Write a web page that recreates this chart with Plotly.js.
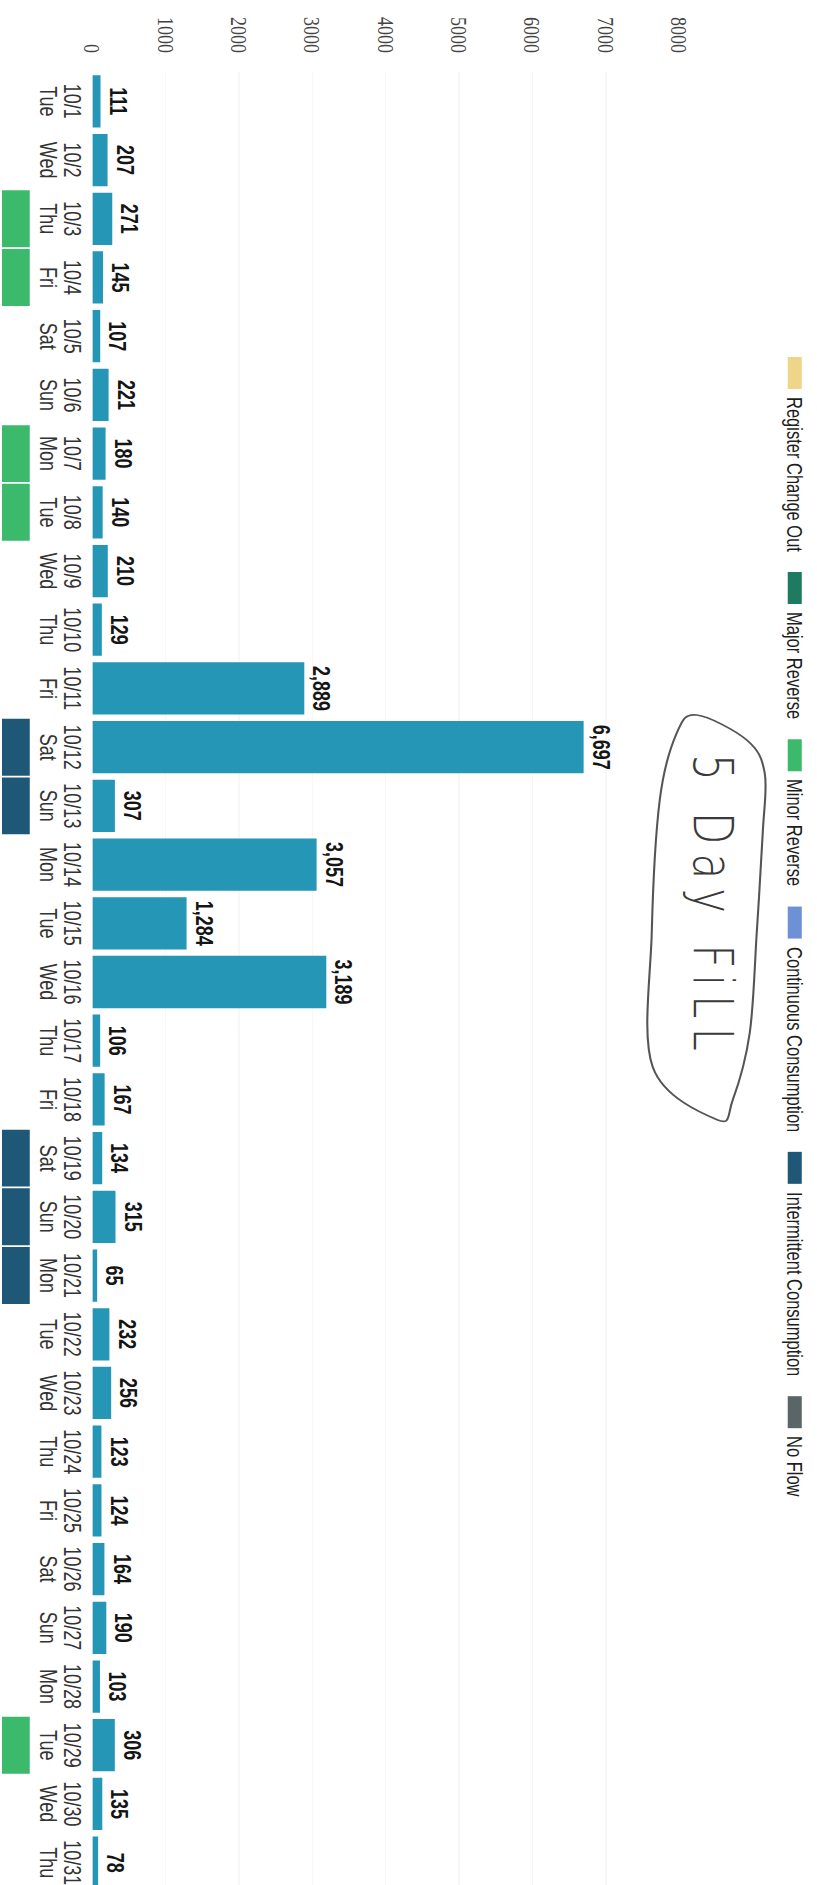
<!DOCTYPE html>
<html>
<head>
<meta charset="utf-8">
<script src="https://cdn.plot.ly/plotly-3.0.1.min.js"></script>
<style>
html, body { margin:0; padding:0; background:#ffffff; width:817px; height:1885px; overflow:hidden; }
#chart { position:absolute; left:817px; top:0; width:1900px; height:629px;
         transform-origin:0 0; transform:rotate(90deg) scaleY(1.3); }
</style>
</head>
<body>
<div id="chart"></div>
<script>
// ---------------- data ----------------
const dates = ['10/1','10/2','10/3','10/4','10/5','10/6','10/7','10/8','10/9','10/10',
  '10/11','10/12','10/13','10/14','10/15','10/16','10/17','10/18','10/19','10/20',
  '10/21','10/22','10/23','10/24','10/25','10/26','10/27','10/28','10/29','10/30','10/31'];
const weekdays = ['Tue','Wed','Thu','Fri','Sat','Sun','Mon','Tue','Wed','Thu',
  'Fri','Sat','Sun','Mon','Tue','Wed','Thu','Fri','Sat','Sun',
  'Mon','Tue','Wed','Thu','Fri','Sat','Sun','Mon','Tue','Wed','Thu'];
const dailyUsage = [111,207,271,145,107,221,180,140,210,129,
  2889,6697,307,3057,1284,3189,106,167,134,315,
  65,232,256,123,124,164,190,103,306,135,78];
const minorReverseDays = ['10/3','10/4','10/7','10/8','10/29'];
const intermittentDays = ['10/12','10/13','10/19','10/20','10/21'];
const legendNames = ['Register Change Out','Major Reverse','Minor Reverse',
  'Continuous Consumption','Intermittent Consumption','No Flow'];
const legendColors = ['#efd58a','#1e7a60','#3cba6c','#6d90d6','#1f5877','#5a6567'];
const valueTicks = [0,1000,2000,3000,4000,5000,6000,7000,8000];
const noteText = '5 Day FiLL';

// ---------------- geometry (unrotated, unstretched page) ----------------
const W = 1900, H = 629, ML = 72, MR = 8, MT = 105.8, MB = 2.1;
const PW = W - ML - MR, PH = H - MT - MB;
const STRETCH = 1.3;
const px2x = p => (p - ML) / PW;
const py2y = p => (H - MB - p) / PH;
const rotX = Y => px2x(Y);
const rotY = X => py2y((817 - X) / STRETCH);

const barColor = '#2596b5';

const traces = [
  {
    type:'bar', x:dates, y:dailyUsage, xaxis:'x', yaxis:'y',
    marker:{color:barColor}, width:0.89,
    texttemplate:'%{y:,}', textposition:'outside', textangle:0,
    constraintext:'none', cliponaxis:false,
    textfont:{family:'Liberation Sans, Arial, sans-serif', size:18, color:'#151515', weight:'bold'},
    hoverinfo:'skip', showlegend:false
  },
  {
    type:'bar', name:legendNames[2], x:minorReverseDays, y:minorReverseDays.map(() => 1),
    xaxis:'x2', yaxis:'y2', width:0.97, marker:{color:legendColors[2]},
    hoverinfo:'skip', showlegend:false
  },
  {
    type:'bar', name:legendNames[4], x:intermittentDays, y:intermittentDays.map(() => 1),
    xaxis:'x2', yaxis:'y2', width:0.97, marker:{color:legendColors[4]},
    hoverinfo:'skip', showlegend:false
  }
];

// ---------------- manual legend (wide swatches) ----------------
const shapes = [];
const annotations = [];
const ctx = document.createElement('canvas').getContext('2d');
ctx.font = '20px "Liberation Sans Narrow", monospace';
const wNarrow = ctx.measureText('Register Change Out').width;
ctx.font = '20px monospace';
const wMono = ctx.measureText('Register Change Out').width;
const hasNarrow = Math.abs(wNarrow - wMono) > 1;
const LEG_FAMILY = hasNarrow ? 'Liberation Sans Narrow' : 'Liberation Sans';
const LEG_FONT = hasNarrow ? 20 : 16.5;
ctx.font = LEG_FONT + 'px "' + LEG_FAMILY + '"';
let cur = 357;
const legTop = 11.5, legBot = 22.3, legMid = 16.9;
legendNames.forEach((name, i) => {
  shapes.push({type:'rect', xref:'paper', yref:'paper',
    x0:px2x(cur), x1:px2x(cur + 32), y0:py2y(legBot), y1:py2y(legTop),
    fillcolor:legendColors[i], line:{width:0}});
  annotations.push({xref:'paper', yref:'paper', x:px2x(cur + 38), y:py2y(legMid),
    xanchor:'left', yanchor:'middle', showarrow:false, text:name,
    font:{family:LEG_FAMILY + ', Liberation Sans, Arial, sans-serif', size:LEG_FONT, color:'#1e1e1e'}});
  cur += 38 + ctx.measureText(name).width + 22;
});

// ---------------- handwritten note + oval ----------------
const ovY = [715, 740, 773, 833, 933, 1033, 1100, 1120, 1067, 933, 800, 733];
const ovX = [697, 747, 765, 763, 757, 750, 733, 718, 653, 652, 660, 677];
const pts = ovY.map((Y, i) => [rotX(Y), rotY(ovX[i])]);
let path = 'M' + pts[0][0] + ',' + pts[0][1];
const n = pts.length;
for (let i = 0; i < n; i++) {
  const p0 = pts[(i - 1 + n) % n], p1 = pts[i], p2 = pts[(i + 1) % n], p3 = pts[(i + 2) % n];
  const c1 = [p1[0] + (p2[0] - p0[0]) / 6, p1[1] + (p2[1] - p0[1]) / 6];
  const c2 = [p2[0] - (p3[0] - p1[0]) / 6, p2[1] - (p3[1] - p1[1]) / 6];
  path += ' C' + c1[0] + ',' + c1[1] + ' ' + c2[0] + ',' + c2[1] + ' ' + p2[0] + ',' + p2[1];
}
path += ' Z';
shapes.push({type:'path', xref:'paper', yref:'paper', path:path,
  line:{color:'#555', width:1.6}, fillcolor:'rgba(0,0,0,0)'});
annotations.push({xref:'paper', yref:'paper', x:rotX(907), y:rotY(712),
  xanchor:'center', yanchor:'middle', showarrow:false,
  text:'<span style="letter-spacing:9px">' + noteText + '</span>',
  font:{family:'DejaVu Sans, sans-serif', size:42, color:'#3a3a3a', weight:300}});

const layout = {
  width:W, height:H,
  margin:{l:ML, r:MR, t:MT, b:MB, pad:0},
  paper_bgcolor:'#ffffff', plot_bgcolor:'#ffffff',
  showlegend:false, barmode:'overlay', bargap:0.11,
  xaxis:{type:'category', categoryorder:'array', categoryarray:dates, range:[-0.5, dates.length - 0.5],
    anchor:'y', showgrid:false, zeroline:false, showline:false, ticks:'',
    ticklabelstandoff:3,
    tickfont:{family:'Liberation Sans, Arial, sans-serif', size:18, color:'#333'}},
  yaxis:{domain:[0.1336, 1], range:[0, 8000], tickvals:valueTicks, ticktext:valueTicks.map(String),
    showgrid:true, gridcolor:'#f7f7f7', gridwidth:1, zeroline:false, showline:false, ticks:'',
    ticklabelstandoff:18,
    tickfont:{family:'Liberation Serif, Times New Roman, serif', size:18, color:'#444'}},
  xaxis2:{type:'category', categoryorder:'array', categoryarray:dates, range:[-0.5, dates.length - 0.5],
    anchor:'y2', side:'top', showgrid:false, zeroline:false, showline:false, ticks:'',
    tickvals:dates, ticktext:weekdays, ticklabelstandoff:3,
    tickfont:{family:'Liberation Sans, Arial, sans-serif', size:18, color:'#333'}},
  yaxis2:{domain:[0, 0.0413], range:[0, 1], visible:false, fixedrange:true},
  shapes:shapes, annotations:annotations
};

Plotly.newPlot('chart', traces, layout, {staticPlot:true, displayModeBar:false});
</script>
</body>
</html>
